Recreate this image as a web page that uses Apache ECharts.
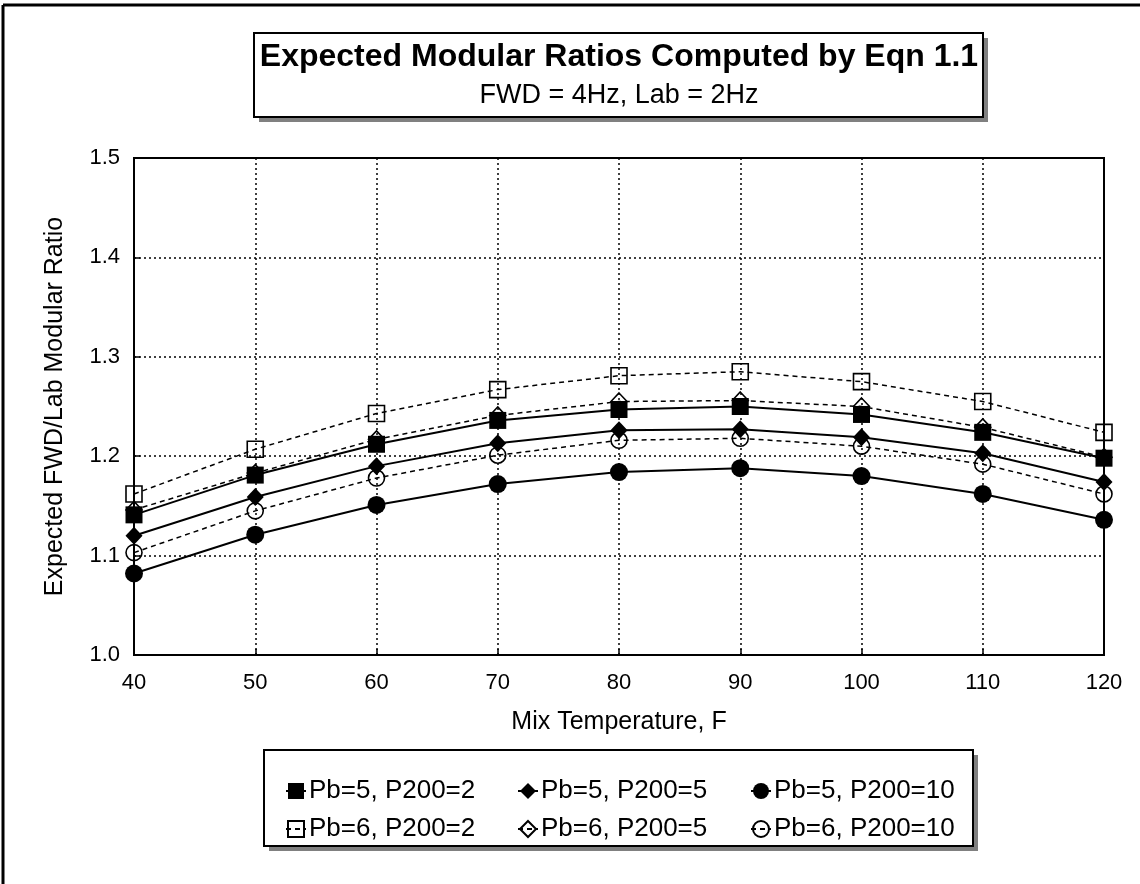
<!DOCTYPE html>
<html>
<head>
<meta charset="utf-8">
<script src="https://cdn.jsdelivr.net/npm/echarts@6/dist/echarts.min.js"></script>
<style>
html,body{margin:0;padding:0;background:#fff;}
#chart{width:1140px;height:884px;}
</style>
</head>
<body>
<div id="chart"></div>
<script>
const temps = [40, 50, 60, 70, 80, 90, 100, 110, 120];
const pb5_p2  = [1.141, 1.181, 1.212, 1.236, 1.247, 1.250, 1.242, 1.224, 1.198];
const pb5_p5  = [1.120, 1.159, 1.190, 1.213, 1.226, 1.227, 1.219, 1.203, 1.174];
const pb5_p10 = [1.082, 1.121, 1.151, 1.172, 1.184, 1.188, 1.180, 1.162, 1.136];
const pb6_p2  = [1.162, 1.207, 1.243, 1.267, 1.281, 1.285, 1.275, 1.255, 1.224];
const pb6_p5  = [1.146, 1.183, 1.217, 1.241, 1.255, 1.256, 1.250, 1.229, 1.199];
const pb6_p10 = [1.103, 1.145, 1.178, 1.201, 1.216, 1.218, 1.210, 1.192, 1.162];
const seriesNames = ['Pb=5, P200=2', 'Pb=5, P200=5', 'Pb=5, P200=10', 'Pb=6, P200=2', 'Pb=6, P200=5', 'Pb=6, P200=10'];
const yTicks = [1.0, 1.1, 1.2, 1.3, 1.4, 1.5];
const titleText = 'Expected Modular Ratios Computed by Eqn 1.1';
const subtitleText = 'FWD = 4Hz, Lab = 2Hz';
const xName = 'Mix Temperature, F';
const yName = 'Expected FWD/Lab Modular Ratio';

const FONT = 'Liberation Sans, Arial, sans-serif';
function pairs(vals){ return temps.map((t,i)=>[t, vals[i]]); }

const values = [pb5_p2, pb5_p5, pb5_p10, pb6_p2, pb6_p5, pb6_p10];
const symbols = ['rect', 'diamond', 'circle', 'rect', 'diamond', 'circle'];
const sizes = [[17,17],[17,18],[18,18],[16,16],[16,17],[16,16]];
const filled = [true, true, true, false, false, false];

const series = values.map((v, i) => ({
  name: seriesNames[i],
  type: 'line',
  data: pairs(v),
  symbol: symbols[i],
  symbolSize: sizes[i],
  z: filled[i] ? 4 : 3,
  lineStyle: filled[i] ? {color:'#000', width:2, type:'solid'} : {color:'#000', width:1.5, type:[5,4]},
  itemStyle: filled[i] ? {color:'#000', borderColor:'#000', borderWidth:0}
                       : {color:'rgba(255,255,255,0)', borderColor:'#000', borderWidth:1.6},
  emphasis: {disabled: true},
  animation: false
}));

// legend positions (marker centre x, row centre y)
const legCols = [290, 522, 755];
const legRows = [786, 824];
const legends = seriesNames.map((n, i) => ({
  data: [n],
  left: legCols[i % 3] - 10,
  top: legRows[Math.floor(i / 3)] - 13,
  itemWidth: 20,
  itemHeight: 20,
  itemGap: 0,
  selectedMode: false,
  textStyle: {fontFamily: FONT, fontSize: 26, color: '#000', padding: [0,0,0,-2]}
}));

const chart = echarts.init(document.getElementById('chart'));
chart.setOption({
  backgroundColor: '#fff',
  animation: false,
  grid: {left: 134, right: 36, top: 158, bottom: 229, show: true, borderColor: '#000', borderWidth: 2, backgroundColor: 'transparent'},
  legend: legends,
  xAxis: {
    type: 'value', min: 40, max: 120, interval: 10,
    name: xName, nameLocation: 'middle', nameGap: 55,
    nameTextStyle: {fontFamily: FONT, fontSize: 25, color: '#000'},
    axisLine: {show: true, lineStyle: {color: '#000', width: 2}},
    axisTick: {show: true, inside: true, length: 6, lineStyle: {color: '#000', width: 1.5}},
    axisLabel: {fontFamily: FONT, fontSize: 22, color: '#000', margin: 17},
    splitLine: {show: true, lineStyle: {color: '#000', width: 1.5, type: [2,3]}}
  },
  yAxis: {
    type: 'value', min: 1.0, max: 1.5, interval: 0.1,
    name: yName, nameLocation: 'middle', nameGap: 66, nameRotate: 90,
    nameTextStyle: {fontFamily: FONT, fontSize: 25, color: '#000'},
    axisLine: {show: true, lineStyle: {color: '#000', width: 2}},
    axisTick: {show: true, inside: true, length: 6, lineStyle: {color: '#000', width: 1.5}},
    axisLabel: {fontFamily: FONT, fontSize: 22, color: '#000', margin: 14,
      formatter: v => { const t = yTicks.find(k => Math.abs(k - v) < 1e-6); return (t !== undefined ? t : v).toFixed(1); }},
    splitLine: {show: true, lineStyle: {color: '#000', width: 1.5, type: [2,3]}}
  },
  series: series,
  graphic: [
    // outer frame (top and left edges)
    {type: 'line', shape: {x1: 3, y1: 5, x2: 1140, y2: 5}, style: {stroke: '#000', lineWidth: 3}, z: 10},
    {type: 'line', shape: {x1: 3, y1: 5, x2: 3, y2: 884}, style: {stroke: '#000', lineWidth: 3}, z: 10},
    // title box
    {type: 'rect', shape: {x: 259, y: 38, width: 729, height: 84}, style: {fill: '#808080'}, z: 10},
    {type: 'rect', shape: {x: 254, y: 33, width: 729, height: 84}, style: {fill: '#fff', stroke: '#000', lineWidth: 2}, z: 11},
    {type: 'text', x: 619, y: 57, style: {text: titleText, fontFamily: FONT, fontWeight: 'bold', fontSize: 32, fill: '#000', align: 'center', verticalAlign: 'middle'}, z: 12},
    {type: 'text', x: 619, y: 96, style: {text: subtitleText, fontFamily: FONT, fontSize: 27, fill: '#000', align: 'center', verticalAlign: 'middle'}, z: 12},
    // legend box
    {type: 'rect', shape: {x: 269, y: 755, width: 709, height: 96}, style: {fill: '#808080'}, z: 0},
    {type: 'rect', shape: {x: 264, y: 750, width: 709, height: 96}, style: {fill: '#fff', stroke: '#000', lineWidth: 2}, z: 0}
  ]
});
</script>
</body>
</html>
